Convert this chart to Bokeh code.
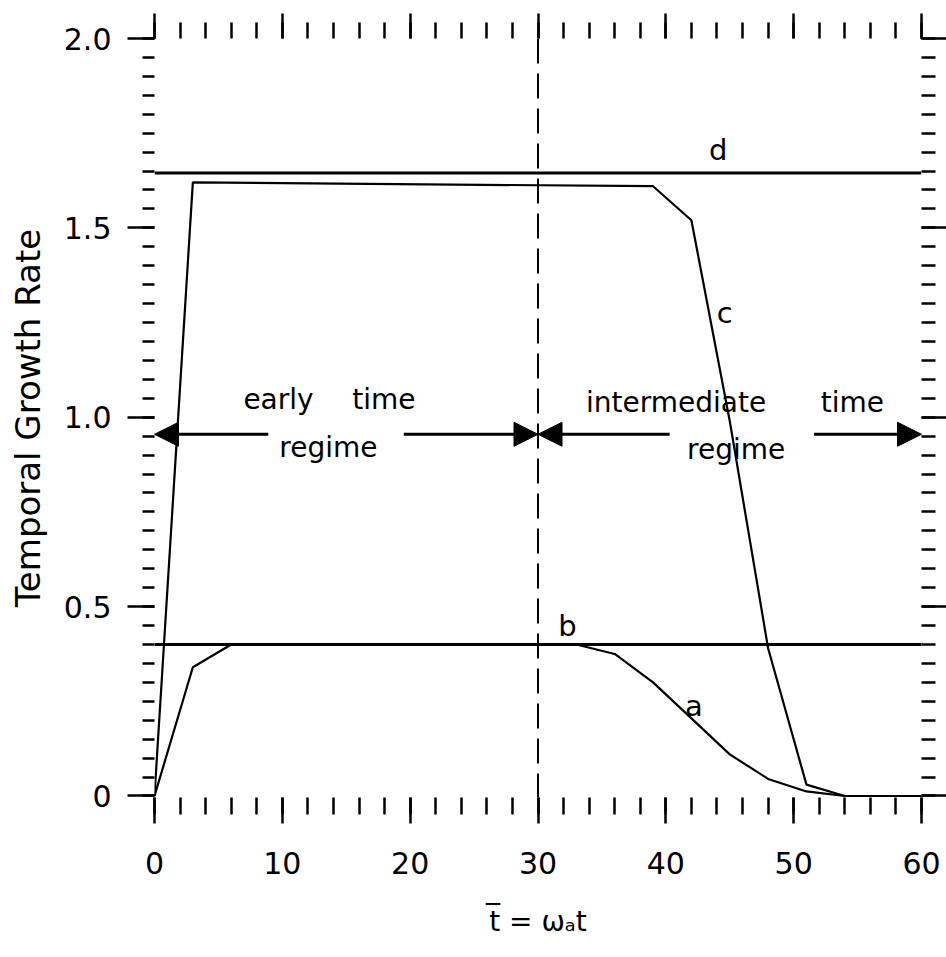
from bokeh.plotting import figure
from bokeh.models import (Range1d, LinearAxis, SingleIntervalTicker, Span, Arrow,
                          NormalHead, Label, CustomJSTickFormatter, CustomLabelingPolicy)
from bokeh.embed import file_html
from bokeh.resources import INLINE

# ---- data ----
a_t = [0, 3, 6, 33, 36, 39, 42, 45, 48, 51, 54, 60]
a_rate = [0, 0.34, 0.40, 0.40, 0.375, 0.30, 0.205, 0.11, 0.045, 0.012, 0.0, 0.0]
c_t = [0, 3, 39, 42, 45, 48, 51, 54, 60]
c_rate = [0, 1.62, 1.61, 1.52, 0.99, 0.39, 0.03, 0.0, 0.0]
b_rate = 0.40
d_rate = 1.645
regime_split = 30
t_range = [0, 60]
rate_range = [0, 2.0]
x_major = 10
x_minor_n = 5
y_major = 0.5
y_minor_n = 10

FONT = "DejaVu Sans"

p = figure(width=946, height=957, output_backend="svg", toolbar_location=None,
           x_range=Range1d(t_range[0], t_range[1]),
           y_range=Range1d(rate_range[0] - 0.004, rate_range[1]),
           x_axis_location=None, y_axis_location=None,
           min_border_left=154, min_border_right=25, min_border_top=38,
           min_border_bottom=160)
p.outline_line_color = None
p.xgrid.visible = False
p.ygrid.visible = False
p.background_fill_color = "white"
p.border_fill_color = "white"


def make_axis(kind, side):
    if kind == "x":
        ax = LinearAxis(ticker=SingleIntervalTicker(interval=x_major, num_minor_ticks=x_minor_n))
    else:
        ax = LinearAxis(ticker=SingleIntervalTicker(interval=y_major, num_minor_ticks=y_minor_n))
    ax.axis_line_color = None
    ax.major_tick_line_color = "black"
    ax.minor_tick_line_color = "black"
    ax.major_tick_line_width = 2.5
    ax.minor_tick_line_width = 2.5
    ax.major_tick_in = 0
    ax.minor_tick_in = 0
    ax.major_label_text_font = FONT
    ax.major_label_text_color = "black"
    ax.axis_label_text_font = FONT
    ax.axis_label_text_font_style = "normal"
    ax.axis_label_text_color = "black"
    p.add_layout(ax, side)
    return ax


bottom = make_axis("x", "below")
bottom.major_tick_out = 26
bottom.minor_tick_out = 17
bottom.major_label_text_font_size = "30px"
bottom.major_label_standoff = 28
bottom.axis_label = "t\u0305 = \u03c9\u2090t"
bottom.axis_label_text_font_size = "28px"
bottom.axis_label_standoff = 28

top = make_axis("x", "above")
top.major_tick_out = 25
top.minor_tick_out = 16
top.major_label_text_font_size = "0px"
top.major_label_standoff = 0
top.major_label_policy = CustomLabelingPolicy(code="return new Set()")

left = make_axis("y", "left")
left.major_tick_out = 27
left.minor_tick_out = 12
left.major_label_text_font_size = "30px"
left.major_label_standoff = 16
left.formatter = CustomJSTickFormatter(code="return tick == 0 ? '0' : tick.toFixed(1);")
left.axis_label = "Temporal Growth Rate"
left.axis_label_text_font_size = "34px"
left.axis_label_standoff = 13

right = make_axis("y", "right")
right.major_tick_out = 25
right.minor_tick_out = 14
right.major_label_text_font_size = "0px"
right.major_label_standoff = 0
right.major_label_policy = CustomLabelingPolicy(code="return new Set()")

# horizontal reference lines b and d
p.add_layout(Span(location=b_rate, dimension="width", line_color="black", line_width=3))
p.add_layout(Span(location=d_rate, dimension="width", line_color="black", line_width=3))
# regime boundary
p.add_layout(Span(location=regime_split, dimension="height", line_color="black",
                  line_width=2, line_dash="25 10"))

# curves a and c
p.line(a_t, a_rate, line_color="black", line_width=2.2)
p.line(c_t, c_rate, line_color="black", line_width=2.2)

# curve labels
for txt, x, y in [("d", 44.1, 1.705), ("c", 44.6, 1.275), ("b", 32.3, 0.448), ("a", 42.2, 0.237)]:
    p.add_layout(Label(x=x, y=y, text=txt, text_font=FONT, text_font_size="29px",
                       text_align="center", text_baseline="alphabetic", text_color="black"))

# regime annotations
for txt, x, y in [("early", 9.7, 1.047), ("time", 17.95, 1.047), ("regime", 13.6, 0.92),
                  ("intermediate", 40.8, 1.039), ("time", 54.6, 1.039), ("regime", 45.5, 0.915)]:
    p.add_layout(Label(x=x, y=y, text=txt, text_font=FONT, text_font_size="28px",
                       text_align="center", text_baseline="alphabetic", text_color="black"))

arrow_y = 0.955
for xs, xe in [(8.9, t_range[0]), (19.5, regime_split), (40.3, regime_split), (51.6, t_range[1])]:
    p.add_layout(Arrow(end=NormalHead(size=24, fill_color="black", line_color="black"),
                       x_start=xs, y_start=arrow_y, x_end=xe, y_end=arrow_y,
                       line_color="black", line_width=3))

open("out.html", "w").write(file_html(p, INLINE))
